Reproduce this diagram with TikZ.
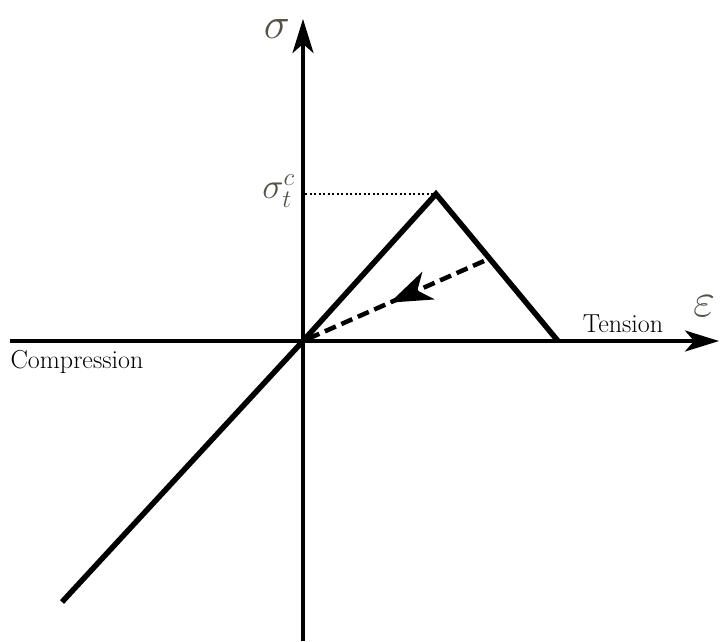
\RequirePackage{fix-cm}
\documentclass[tikz,border=0pt]{standalone}
\usetikzlibrary{arrows.meta,decorations.markings}
\definecolor{greekgray}{RGB}{85,82,72}
\begin{document}
\begin{tikzpicture}[x=1pt,y=-1pt,
  axis/.style={line width=3.5pt,-{Stealth[length=34pt,width=21pt,inset=9pt]}},
  curve/.style={line width=5.5pt,line join=miter},
  lbl/.style={font=\fontsize{26}{30}\selectfont,inner sep=0pt},
  greek/.style={text=greekgray,inner sep=0pt}]
\useasboundingbox (0,0) rectangle (720,641);
\coordinate (O) at (303,341);
\coordinate (ytop) at (303,19);
\coordinate (ybot) at (303,641);
\coordinate (xleft) at (10,341);
\coordinate (xright) at (719,341);
\coordinate (peak) at (436,194);
\coordinate (tend) at (558,341);
\coordinate (cend) at (62,602);
\coordinate (dend) at (484,261);
\coordinate (sy) at (305,194);
% axes
\draw[axis] (ybot) -- (ytop);
\draw[axis] (xleft) -- (xright);
% curve
\draw[curve] (cend) -- (O) -- (peak) -- (tend);
% dotted
\draw[line width=2pt,dash pattern=on 2pt off 2.5pt] (sy) -- (peak);
% dashed unloading
\draw[line width=4.5pt,dash pattern=on 12pt off 6pt,
  postaction={decorate},
  decoration={markings,mark=at position 0.52 with {\arrow{Stealth[length=42pt,width=30pt,inset=12pt]}}}]
  (dend) -- (O);
% labels
\node[greek,font=\fontsize{44}{46}\selectfont] (sig) at (277,29) {$\sigma$};
\node[greek,font=\fontsize{36}{40}\selectfont,anchor=east] (sigc) at (295,191) {$\sigma_t^c$};
\node[greek,font=\fontsize{48}{50}\selectfont] (eps) at (704,306) {$\varepsilon$};
\node[lbl] (ten) at (623,324) {Tension};
\node[lbl] (comp) at (77,362) {Compression};
\end{tikzpicture}
\end{document}
